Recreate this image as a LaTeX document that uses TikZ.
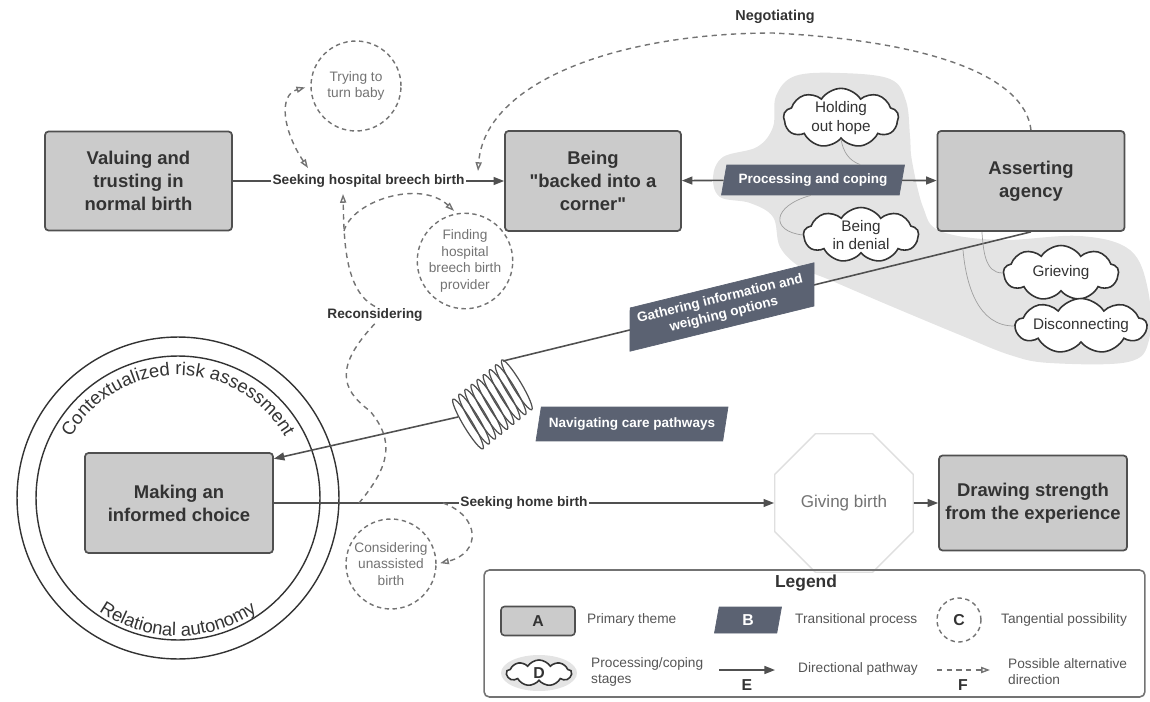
\documentclass[tikz,border=0pt]{standalone}
\usepackage{fontspec}
\setmainfont{Liberation Sans}
\usetikzlibrary{arrows.meta,shapes.geometric,shapes.symbols,decorations.text}

\definecolor{boxgray}{HTML}{CBCBCB}
\definecolor{edge}{HTML}{505050}
\definecolor{slate}{HTML}{5B6272}
\definecolor{blob}{HTML}{E4E4E4}
\definecolor{txt}{HTML}{333333}
\definecolor{soft}{HTML}{737373}
\definecolor{legtxt}{HTML}{555555}

\begin{document}
\begin{tikzpicture}[x=0.02cm, y=0.02cm,
	theme/.style={draw=edge, line width=1pt, fill=boxgray, rounded corners=2pt, align=center, text=txt, font=\fontsize{10.5}{13}\selectfont\bfseries},
	process/.style={trapezium, trapezium left angle=72, trapezium right angle=108, trapezium stretches body, fill=slate, draw=slate, text=white, align=center, inner sep=1pt, font=\fontsize{7.7}{9.2}\selectfont\bfseries},
	possible/.style={circle, draw=soft, dash pattern=on 2.5pt off 2pt, line width=0.8pt, minimum size=1.8cm, inner sep=0pt, align=center, text=soft, font=\fontsize{7.8}{9.4}\selectfont},
	stage/.style={cloud, cloud puffs=9, cloud puff arc=115, cloud ignores aspect, draw=txt, line width=0.9pt, fill=white, inner sep=0pt, align=center, text=txt, font=\fontsize{8.7}{10.5}\selectfont},
	pathline/.style={draw=edge, line width=0.9pt},
	flow/.style={pathline, -{Triangle[length=6pt,width=4.5pt]}},
	alt/.style={draw=soft, line width=0.8pt, dash pattern=on 3pt off 2.5pt, >={Triangle[open,length=5pt,width=3.5pt]}},
	thread/.style={draw=gray!75, line width=0.4pt},
	pathlbl/.style={fill=white, inner sep=1pt, text=txt, font=\fontsize{7.8}{9.4}\selectfont\bfseries},
	legendtxt/.style={anchor=west, align=left, text=legtxt, font=\fontsize{7.8}{9}\selectfont},
	legendkey/.style={text=txt, font=\fontsize{9}{10}\selectfont\bfseries}
]
	\useasboundingbox (0,0) rectangle (1150,701);

	% processing and coping area
	\fill[blob] plot[smooth cycle, tension=0.6] coordinates {(773,574) (776,605) (795,625) (840,628) (890,622) (906,600) (910,565) (912,540) (923,494) (940,470) (1000,461) (1080,465) (1130,451) (1148,411) (1149,361) (1128,339) (1050,338) (1010,346) (960,366) (900,391) (860,408) (830,421) (800,434) (780,454) (773,484) (750,498) (720,504) (713,524) (723,544) (757,554)};

	% relational autonomy rings
	\node[circle, draw=txt, line width=0.8pt, minimum size=6.44cm] (outerring) at (178,203) {};
	\node[circle, draw=txt, line width=0.8pt, minimum size=5.68cm] (innerring) at (178,203) {};
	\path[decorate, decoration={text along path, text align=center, text color=txt, text={|\fontsize{10.5}{12}\selectfont|Contextualized risk assessment}}] (178,203) ++(165:2.46cm) arc[start angle=165, end angle=15, radius=2.46cm];
	\path[decorate, decoration={text along path, text align=center, text color=txt, text={|\fontsize{10.5}{12}\selectfont|Relational autonomy}}] (178,203) ++(220:2.76cm) arc[start angle=220, end angle=320, radius=2.76cm];

	% primary themes
	\node[theme, minimum width=3.74cm, minimum height=1.98cm] (valuing) at (138.5,520) {Valuing and\\trusting in\\normal birth};
	\node[theme, minimum width=3.52cm, minimum height=2cm] (being) at (593,520) {Being\\\textquotedbl backed into a\\corner\textquotedbl};
	\node[theme, minimum width=3.74cm, minimum height=2cm] (asserting) at (1031,520) {Asserting\\agency};
	\node[theme, minimum width=3.76cm, minimum height=2cm] (making) at (179,198) {Making an\\informed choice};
	\node[theme, minimum width=3.76cm, minimum height=1.9cm] (drawing) at (1033,198) {Drawing strength\\from the experience};
	\node[regular polygon, regular polygon sides=8, draw=gray!25, line width=0.8pt, fill=white, minimum size=2.6cm, text=soft, font=\fontsize{9.7}{11}\selectfont] (giving) at (844,198) {Giving birth};

	% processing/coping stages
	\foreach \x/\y/\name/\txt in {841/583/hope/{Holding\\out hope}, 861/466/denial/{Being\\in denial}, 1061/428/grieving/{Grieving}, 1081/375/disconnecting/{Disconnecting}} {
		\node[stage, minimum width=2.3cm, minimum height=1.1cm] (\name) at (\x,\y) {\txt};
	}

	% transitional processes
	\node[process, minimum width=3.66cm, minimum height=0.6cm] (coping) at (813,521) {Processing and coping};
	\draw[flow] (coping) -- (being);
	\draw[flow] (coping) -- (asserting);

	% spring of care pathways
	\coordinate (coiltop) at (503,340);
	\coordinate (coilbase) at (458,284);
	\coordinate (gthread) at (963,451);
	\foreach \i in {0,...,8} {
		\draw[pathline, line width=0.7pt, shift={(468+\i*6.1,277+\i*4.9)}, rotate=31] (0,0) ellipse[x radius=0.09cm, y radius=0.58cm];
	}
	\draw[pathline] (asserting.south) -- (coiltop);
	\draw[flow] (coilbase) -- (making.25);
	\node[process, minimum width=4cm, minimum height=0.84cm, rotate=13.8] (gathering) at (722,394) {Gathering information and\\weighing options};
	\node[process, minimum width=3.84cm, minimum height=0.68cm] (navigating) at (632,277) {Navigating care pathways};

	% threads between stages
	\draw[thread] (hope.south) to[out=-80,in=160] (coping.18);
	\draw[thread] (coping.262) .. controls (772,495) and (770,470) .. (denial.west);
	\draw[thread] (asserting.226) to[out=-85,in=180] (grieving.west);
	\draw[thread] (gthread) to[out=-85,in=180] (disconnecting.west);

	% directional pathways
	\draw[flow] (valuing) -- node[pathlbl] (breech) {Seeking hospital breech birth} (being);
	\draw[flow] (making) -- node[pathlbl] (homebirth) {Seeking home birth} (giving);
	\draw[flow] (giving) -- (drawing);

	% tangential possibilities
	\node[possible] (turnbaby) at (356,615) {Trying to\\turn baby};
	\node[possible] (finding) at (465,440) {Finding\\hospital\\breech birth\\provider};
	\node[possible] (considering) at (391,137) {Considering\\unassisted\\birth};

	\coordinate (tbtip) at (308,533);
	\coordinate (rtip) at (343,507);
	\coordinate (ntip) at (478,530);
	\coordinate (rfoot) at (359,198);
	\coordinate (cfoot) at (443,198);
	\coordinate (fbranch) at (344,470);

	\draw[alt, <->, shorten >=3pt] (tbtip) .. controls (283,570) and (278,606) .. (turnbaby.west);
	\node[pathlbl] (recon) at (375,386) {Reconsidering};
	\draw[alt] (rfoot) .. controls (390,235) and (395,260) .. (370,290) .. controls (340,312) and (335,335) .. (recon.south);
	\draw[alt, ->] (recon.north) .. controls (345,410) and (344,460) .. (rtip);
	\draw[alt, ->, shorten >=2pt] (fbranch) .. controls (352,500) and (420,522) .. (finding.100);
	\draw[alt, ->, shorten >=2pt] (cfoot) .. controls (480,185) and (482,148) .. (considering.east);

	% negotiating
	\draw[alt, ->] (asserting.north) .. controls (1025,625) and (930,660) .. (773,668) .. controls (620,668) and (485,620) .. (ntip);
	\node[text=txt, font=\fontsize{8.2}{10}\selectfont\bfseries] (negotiating) at (775,684) {Negotiating};

	% legend
	\node[draw=soft, line width=0.9pt, rounded corners=3pt, minimum width=13.22cm, minimum height=2.54cm] (legend) at (814.5,67.5) {};
	\node[text=txt, font=\fontsize{9.9}{11}\selectfont\bfseries] (legendtitle) at (806,118) {Legend};
	\node[theme, minimum width=1.48cm, minimum height=0.58cm, line width=0.9pt, font=\fontsize{9}{10}\selectfont\bfseries] (legA) at (538,80) {A};
	\node[legendtxt] at (581,81) {Primary theme};
	\node[process, minimum width=1.34cm, minimum height=0.52cm, font=\fontsize{9}{10}\selectfont\bfseries] (legB) at (748,81) {B};
	\node[legendtxt] at (789,81) {Transitional process};
	\node[possible, minimum size=0.88cm, legendkey] (legC) at (959,81) {C};
	\node[legendtxt] at (995,81) {Tangential possibility};
	\fill[blob] (539,28) ellipse[x radius=0.76cm, y radius=0.36cm];
	\node[stage, minimum width=1.3cm, minimum height=0.52cm, legendkey] (legD) at (539,28) {D};
	\node[legendtxt] at (585,29) {Processing/coping\\stages};
	\coordinate (legEa) at (719,31);
	\coordinate (legEb) at (775,31);
	\draw[flow] (legEa) -- (legEb);
	\node[legendkey] (legE) at (747,16) {E};
	\node[legendtxt] at (792,32) {Directional pathway};
	\coordinate (legFa) at (937,31);
	\coordinate (legFb) at (990,31);
	\draw[alt, ->] (legFa) -- (legFb);
	\node[legendkey] (legF) at (963,16) {F};
	\node[legendtxt] at (1002,29) {Possible alternative\\direction};
\end{tikzpicture}
\end{document}
